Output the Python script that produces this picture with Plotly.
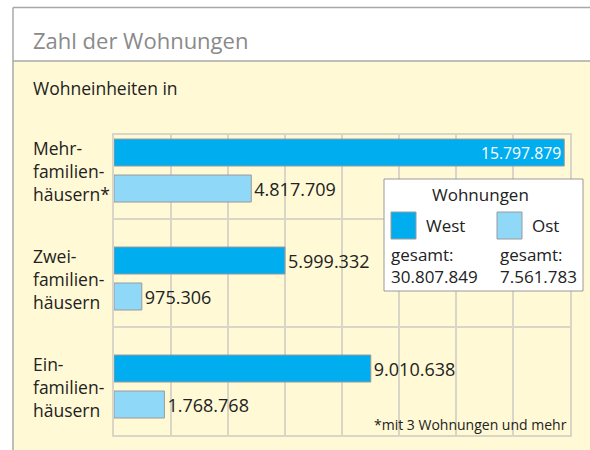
import plotly.graph_objects as go

# ---- data ----
categories = ["Mehr-<br>familien-<br>häusern*", "Zwei-<br>familien-<br>häusern", "Ein-<br>familien-<br>häusern"]
west = [15797879, 5999332, 9010638]
ost = [4817709, 975306, 1768768]
series_names = ["West", "Ost"]
title_text = "Zahl der Wohnungen"
subtitle_text = "Wohneinheiten in"
legend_title = "Wohnungen"
total_label = "gesamt:"
footnote = "*mit 3 Wohnungen und mehr"

# ---- style ----
W, H = 590, 450
L, R, T, B = 114, 20, 135, 15
PW, PH = W - L - R, H - T - B
FONT = "Open Sans"
C_WEST = "#00AEEF"
C_OST = "#8FD8F8"
C_YELLOW = "#FFF9D5"
C_GRID = "#D9D6C8"
C_FRAME = "#A8A8A8"
C_TEXT = "#222222"


def px(x):
    return (x - L) / PW


def py(y):
    return 1 - (y - T) / PH


def de(v):
    return f"{v:,}".replace(",", ".")


idx = list(range(len(categories)))
OFF_W, OFF_O, BW = -0.1157, 0.2176, 0.25

fig = go.Figure()
fig.add_trace(go.Bar(
    orientation="h", x=west, y=[i + OFF_W for i in idx], width=BW,
    marker=dict(color=C_WEST, line=dict(color="#9A9A9A", width=1)),
    text=[de(v) for v in west],
    textposition=["inside", "outside", "outside"],
    insidetextanchor="end",
    insidetextfont=dict(color="white", size=18, family=FONT),
    outsidetextfont=dict(color=C_TEXT, size=18, family=FONT),
    cliponaxis=False, name=series_names[0], showlegend=False,
))
fig.add_trace(go.Bar(
    orientation="h", x=ost, y=[i + OFF_O for i in idx], width=BW,
    marker=dict(color=C_OST, line=dict(color="#9A9A9A", width=1)),
    text=[de(v) for v in ost],
    textposition="outside",
    outsidetextfont=dict(color=C_TEXT, size=18, family=FONT),
    cliponaxis=False, name=series_names[1], showlegend=False,
))

shapes = [
    dict(type="rect", xref="paper", yref="paper", x0=px(13), x1=px(W + 5), y0=py(61), y1=py(H + 5),
         fillcolor=C_YELLOW, line=dict(width=0), layer="below"),
    dict(type="line", xref="paper", yref="paper", x0=px(13), x1=px(W + 5), y0=py(7.5), y1=py(7.5),
         line=dict(color=C_FRAME, width=1.5)),
    dict(type="line", xref="paper", yref="paper", x0=px(13), x1=px(W + 5), y0=py(61), y1=py(61),
         line=dict(color=C_FRAME, width=1.5)),
    dict(type="line", xref="paper", yref="paper", x0=px(13), x1=px(13), y0=py(7.5), y1=py(H + 5),
         line=dict(color=C_FRAME, width=1.5)),
    dict(type="rect", xref="paper", yref="paper", x0=px(384), x1=px(583), y0=py(179), y1=py(291),
         fillcolor="white", line=dict(color="#9A9A9A", width=1)),
    dict(type="rect", xref="paper", yref="paper", x0=px(391), x1=px(416), y0=py(212), y1=py(239),
         fillcolor=C_WEST, line=dict(color="#9A9A9A", width=1)),
    dict(type="rect", xref="paper", yref="paper", x0=px(497), x1=px(522), y0=py(212), y1=py(239),
         fillcolor=C_OST, line=dict(color="#9A9A9A", width=1)),
]

ann = []
for i, c in enumerate(categories):
    ann.append(dict(xref="paper", yref="y", x=px(31), y=i + (OFF_W + OFF_O) / 2, text=c,
                    xanchor="left", yanchor="middle", align="left", showarrow=False,
                    font=dict(size=17.5, color=C_TEXT, family=FONT)))
ann += [
    dict(xref="paper", yref="paper", x=px(31), y=py(40), text=title_text, xanchor="left", yanchor="middle",
         showarrow=False, font=dict(size=22, color="#8A8A8A", family=FONT)),
    dict(xref="paper", yref="paper", x=px(31), y=py(88), text=subtitle_text, xanchor="left", yanchor="middle",
         showarrow=False, font=dict(size=17.5, color=C_TEXT, family=FONT)),
    dict(xref="paper", yref="paper", x=px(480), y=py(194), text=legend_title, xanchor="center", yanchor="middle",
         showarrow=False, font=dict(size=17, color=C_TEXT, family=FONT)),
    dict(xref="paper", yref="paper", x=px(424), y=py(225), text=series_names[0], xanchor="left", yanchor="middle",
         showarrow=False, font=dict(size=17, color=C_TEXT, family=FONT)),
    dict(xref="paper", yref="paper", x=px(530), y=py(225), text=series_names[1], xanchor="left", yanchor="middle",
         showarrow=False, font=dict(size=17, color=C_TEXT, family=FONT)),
    dict(xref="paper", yref="paper", x=px(389), y=py(265), text=total_label + "<br>" + de(sum(west)),
         xanchor="left", yanchor="middle", align="left",
         showarrow=False, font=dict(size=17, color=C_TEXT, family=FONT)),
    dict(xref="paper", yref="paper", x=px(498), y=py(265), text=total_label + "<br>" + de(sum(ost)),
         xanchor="left", yanchor="middle", align="left",
         showarrow=False, font=dict(size=17, color=C_TEXT, family=FONT)),
    dict(xref="paper", yref="paper", x=px(569), y=py(424), text=footnote, xanchor="right", yanchor="middle",
         showarrow=False, font=dict(size=14, color=C_TEXT, family=FONT)),
]

fig.update_layout(
    width=W, height=H, margin=dict(l=L, r=R, t=T, b=B, autoexpand=False),
    paper_bgcolor="white", plot_bgcolor=C_YELLOW,
    barmode="overlay", showlegend=False,
    font=dict(family=FONT, size=17, color=C_TEXT),
    shapes=shapes, annotations=ann,
    xaxis=dict(range=[0, 16e6], dtick=2e6, showticklabels=False, showgrid=True, gridcolor=C_GRID,
               gridwidth=1.5, zeroline=False, showline=True, linecolor=C_GRID, linewidth=1.5, mirror=True,
               fixedrange=True),
    yaxis=dict(range=[len(categories) - 0.5, -0.278], tickvals=[0.5, 1.5], showticklabels=False,
               showgrid=True, gridcolor=C_GRID, gridwidth=1.5, zeroline=False, showline=True,
               linecolor=C_GRID, linewidth=1.5, mirror=True, fixedrange=True),
)

fig.write_html("out.html", config={"displayModeBar": False},
               post_script="document.body.style.margin='0px';document.body.style.overflow='hidden';")
